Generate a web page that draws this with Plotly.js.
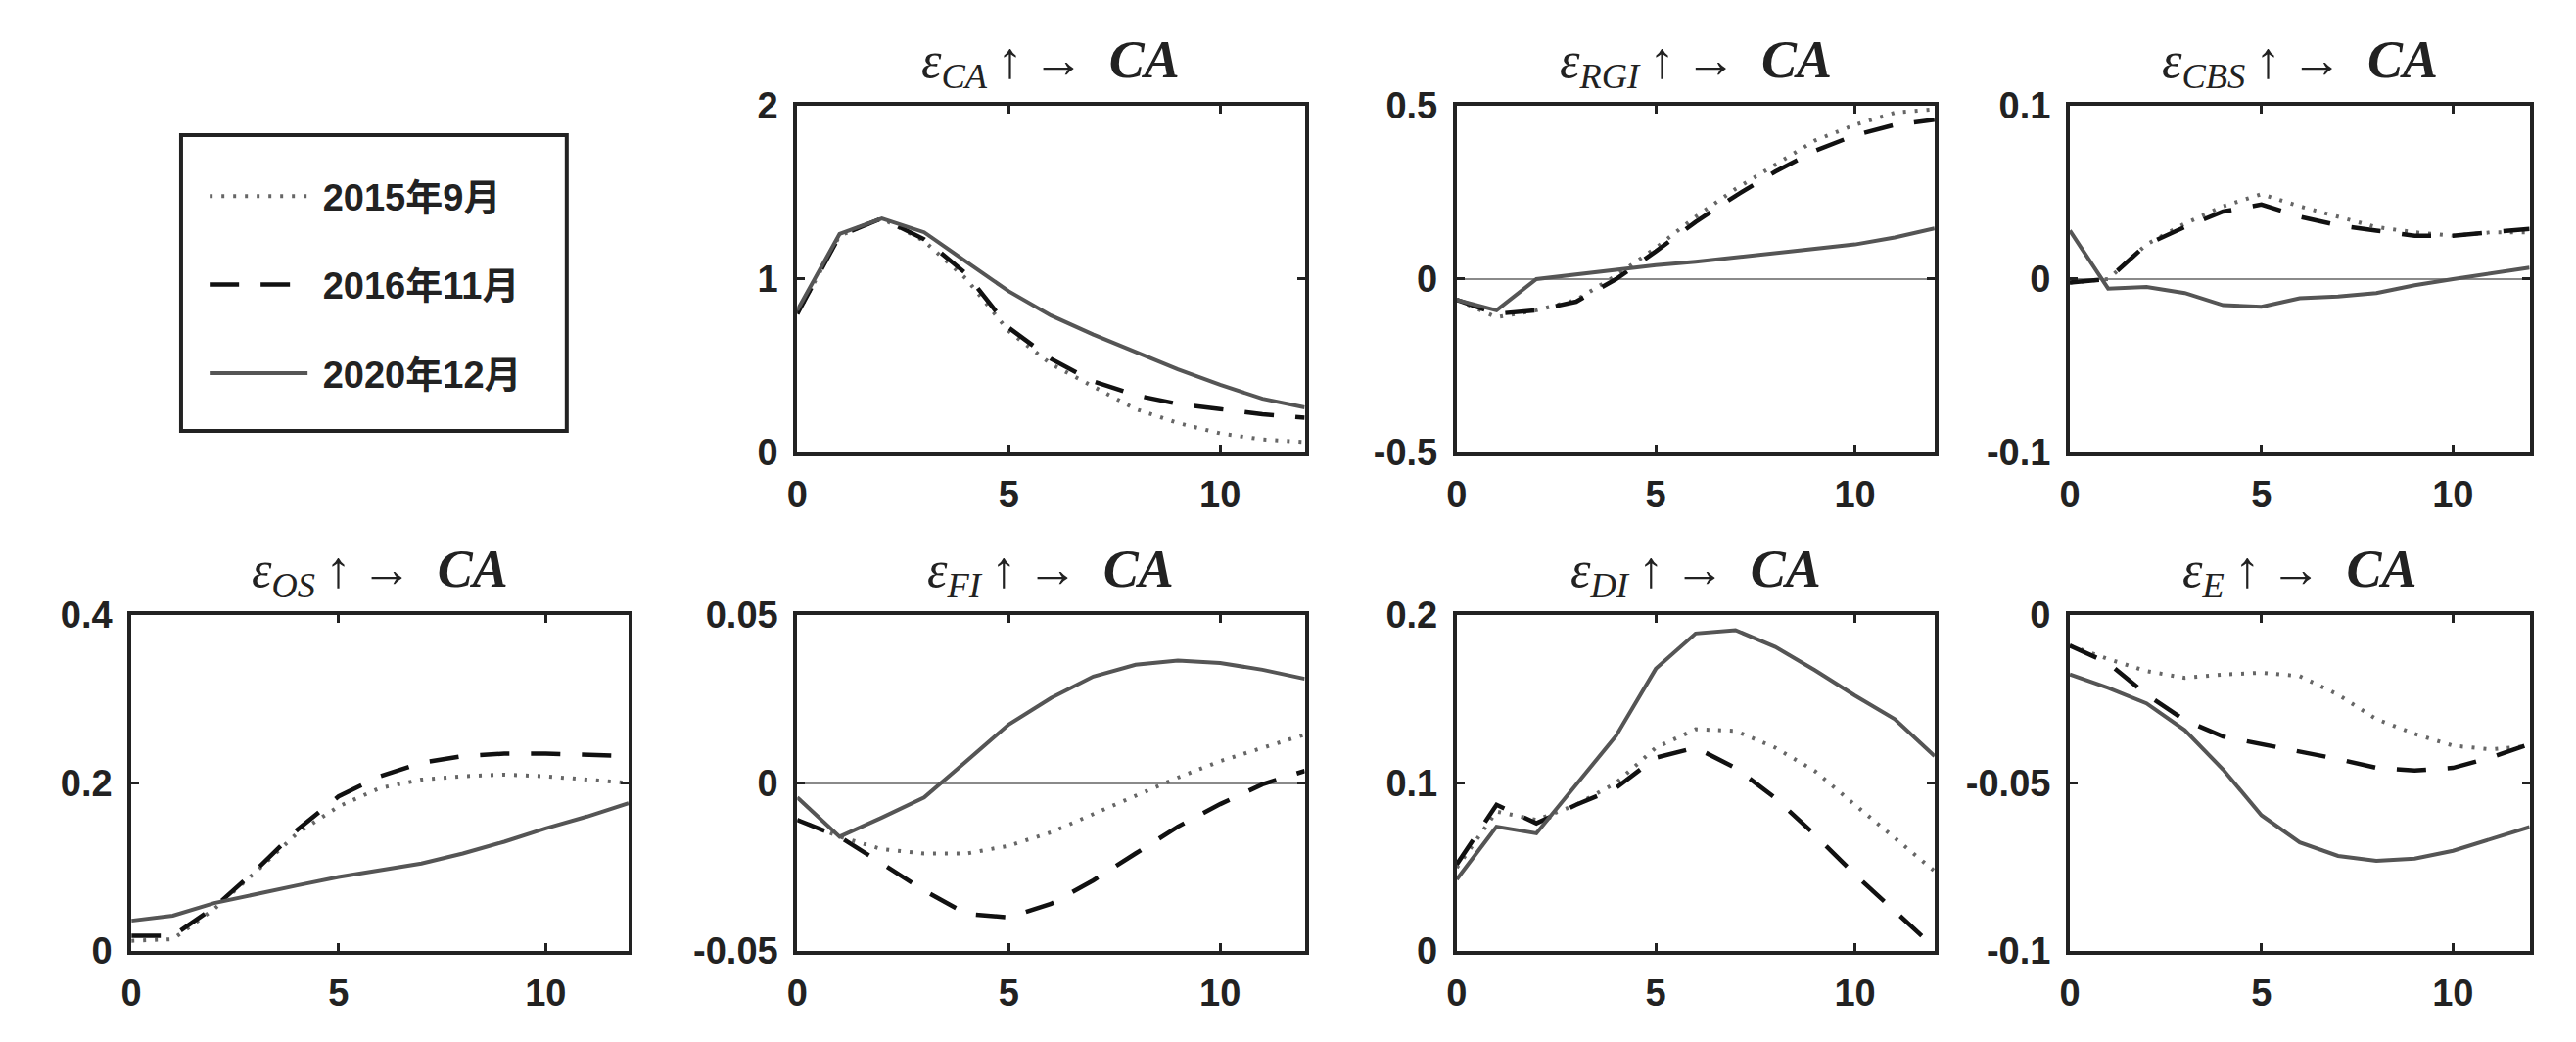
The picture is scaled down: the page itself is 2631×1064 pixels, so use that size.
<!DOCTYPE html>
<html><head><meta charset="utf-8">
<script src="https://cdn.plot.ly/plotly-3.0.1.min.js"></script>
<style>html,body{margin:0;padding:0;background:#fff}#chart{width:2631px;height:1064px}</style>
</head><body><div id="chart"></div>
<script>
// ---- data ----
const periods = [0,1,2,3,4,5,6,7,8,9,10,11,12];
const seriesNames = ['2015年9月','2016年11月','2020年12月'];
const shockLabels = ['CA','RGI','CBS','OS','FI','DI','E'];

const CA_2015 = [0.80,1.25,1.35,1.22,1.00,0.70,0.51,0.38,0.25,0.17,0.11,0.075,0.06];
const CA_2016 = [0.80,1.25,1.35,1.23,1.03,0.72,0.54,0.41,0.33,0.28,0.25,0.22,0.20];
const CA_2020 = [0.82,1.26,1.35,1.27,1.10,0.93,0.79,0.68,0.58,0.48,0.39,0.31,0.26];

const RGI_2015 = [-0.06,-0.11,-0.09,-0.06,0.01,0.09,0.18,0.26,0.33,0.40,0.445,0.48,0.49];
const RGI_2016 = [-0.06,-0.10,-0.09,-0.065,0.0,0.08,0.165,0.24,0.31,0.37,0.415,0.445,0.46];
const RGI_2020 = [-0.06,-0.09,0.0,0.013,0.026,0.04,0.05,0.062,0.074,0.088,0.10,0.12,0.146];

const CBS_2015 = [-0.002,0.0,0.02,0.032,0.042,0.049,0.042,0.036,0.030,0.027,0.025,0.027,0.027];
const CBS_2016 = [-0.002,0.0,0.02,0.03,0.039,0.043,0.036,0.031,0.028,0.025,0.025,0.027,0.029];
const CBS_2020 = [0.028,-0.0055,-0.0045,-0.008,-0.015,-0.016,-0.011,-0.010,-0.008,-0.0035,0.0,0.0033,0.0066];

const OS_2015 = [0.012,0.014,0.05,0.094,0.14,0.172,0.194,0.204,0.208,0.21,0.208,0.204,0.20];
const OS_2016 = [0.018,0.018,0.052,0.096,0.144,0.184,0.208,0.224,0.232,0.235,0.235,0.234,0.232];
const OS_2020 = [0.036,0.042,0.057,0.068,0.078,0.088,0.096,0.104,0.116,0.13,0.146,0.16,0.176];

const FI_2015 = [-0.011,-0.016,-0.0197,-0.021,-0.021,-0.0187,-0.0147,-0.0093,-0.0039,0.0016,0.0065,0.0105,0.0144];
const FI_2016 = [-0.011,-0.016,-0.024,-0.032,-0.039,-0.040,-0.036,-0.029,-0.021,-0.013,-0.0063,-0.0004,0.0036];
const FI_2020 = [-0.0043,-0.016,-0.0103,-0.0043,0.0065,0.0174,0.0253,0.0317,0.0352,0.0364,0.0357,0.0337,0.031];

const DI_2015 = [0.0495,0.083,0.078,0.087,0.10,0.121,0.132,0.131,0.121,0.107,0.087,0.067,0.0475];
const DI_2016 = [0.0515,0.087,0.076,0.087,0.097,0.115,0.121,0.109,0.091,0.069,0.0455,0.024,0.002];
const DI_2020 = [0.0426,0.074,0.070,0.099,0.128,0.168,0.189,0.191,0.181,0.167,0.152,0.138,0.116];

const E_2015 = [-0.0091,-0.0131,-0.0167,-0.0187,-0.0177,-0.0172,-0.0182,-0.0237,-0.031,-0.0354,-0.0389,-0.040,-0.039];
const E_2016 = [-0.0091,-0.0143,-0.0237,-0.0313,-0.0362,-0.0384,-0.0404,-0.0429,-0.0455,-0.0463,-0.0455,-0.0424,-0.0384];
const E_2020 = [-0.0177,-0.0217,-0.0263,-0.0343,-0.046,-0.0596,-0.0677,-0.0717,-0.0732,-0.0725,-0.0702,-0.0667,-0.0631];

const xTickVals = [0,5,10];
const xTickText = ['0','5','10'];
const yTickVals = [[0,1,2],[-0.5,0,0.5],[-0.1,0,0.1],[0,0.2,0.4],[-0.05,0,0.05],[0,0.1,0.2],[-0.1,-0.05,0]];
const yTickText = [['0','1','2'],['-0.5','0','0.5'],['-0.1','0','0.1'],['0','0.2','0.4'],['-0.05','0','0.05'],['0','0.1','0.2'],['-0.1','-0.05','0']];
const zeroLinePanels = ['RGI','CBS','FI'];

const panelSeries = [
  [CA_2015, CA_2016, CA_2020],
  [RGI_2015, RGI_2016, RGI_2020],
  [CBS_2015, CBS_2016, CBS_2020],
  [OS_2015, OS_2016, OS_2020],
  [FI_2015, FI_2016, FI_2020],
  [DI_2015, DI_2016, DI_2020],
  [E_2015, E_2016, E_2020]
];

// ---- styles ----
const lineStyles = [
  {color:'#666666', width:4, dash:'3px,9px'},
  {color:'#111111', width:4.5, dash:'30px,22px'},
  {color:'#555555', width:4, dash:'solid'}
];
const colX = [[0.051,0.244],[0.3095,0.5065],[0.5655,0.751],[0.8035,0.982]];
const rowY = [[0.5658,0.8985],[0.0874,0.4098]];
const panelPos = [[1,0],[2,0],[3,0],[0,1],[1,1],[2,1],[3,1]];

const tickFont = {family:'Liberation Sans, Arial, sans-serif', size:38, color:'#222', weight:'bold'};

const traces = [];
const layout = {
  width:2631, height:1064,
  margin:{l:0,r:0,t:0,b:0},
  paper_bgcolor:'#fff', plot_bgcolor:'#fff',
  showlegend:true,
  legend:{
    x:0.0795, y:0.8412, xanchor:'left', yanchor:'top',
    borderwidth:0, bgcolor:'rgba(0,0,0,0)',
    font:{family:'Liberation Sans, Noto Sans CJK SC, sans-serif', size:38, color:'#222', weight:'bold'},
    itemwidth:100, traceorder:'grouped', tracegroupgap:38
  },
  shapes:[{
    type:'rect', xref:'paper', yref:'paper',
    x0:0.0703, x1:0.2200, y0:0.5865, y1:0.8703,
    line:{color:'#222', width:4}, fillcolor:'rgba(0,0,0,0)', layer:'above'
  }],
  annotations:[]
};

panelSeries.forEach((series, p) => {
  const n = p === 0 ? '' : String(p + 1);
  series.forEach((ys, s) => {
    traces.push({
      x: periods, y: ys, type:'scatter', mode:'lines',
      name: '\u00a0' + seriesNames[s], legendgroup: 'g' + s,
      showlegend: p === 0,
      line: lineStyles[s],
      xaxis: 'x' + n, yaxis: 'y' + n,
      hoverinfo:'skip'
    });
  });
  const [c, r] = panelPos[p];
  const yv = yTickVals[p];
  layout['xaxis' + n] = {
    domain: colX[c], anchor: 'y' + n,
    range:[0,12], tickmode:'array', tickvals:xTickVals, ticktext:xTickText,
    showline:true, linecolor:'#222', linewidth:4, mirror:'ticks',
    ticks:'inside', ticklen:8, tickwidth:3, tickcolor:'#222',
    showgrid:false, zeroline:false, tickfont:tickFont, ticklabelstandoff:6
  };
  layout['yaxis' + n] = {
    domain: rowY[r], anchor: 'x' + n,
    range:[yv[0], yv[yv.length-1]], tickmode:'array', tickvals:yv, ticktext:yTickText[p],
    showline:true, linecolor:'#222', linewidth:4, mirror:'ticks',
    ticks:'inside', ticklen:8, tickwidth:3, tickcolor:'#222',
    showgrid:false,
    zeroline: zeroLinePanels.includes(shockLabels[p]), zerolinecolor:'#8a8a8a', zerolinewidth:2.5,
    tickfont:tickFont, ticklabelstandoff:8
  };
  layout.annotations.push({
    text: '<i>ε</i><sub><i>' + shockLabels[p] + '</i></sub>\u2009↑\u2009→  <b><i><span style="font-size:54px">CA</span></i></b>',
    xref: 'x' + n + ' domain', yref: 'y' + n + ' domain',
    x:0.5, y:1, xanchor:'center', yanchor:'bottom', yshift:8,
    showarrow:false,
    font:{family:'Liberation Serif, DejaVu Serif, serif', size:52, color:'#222'}
  });
});

Plotly.newPlot('chart', traces, layout, {staticPlot:true});
</script>
</body></html>
